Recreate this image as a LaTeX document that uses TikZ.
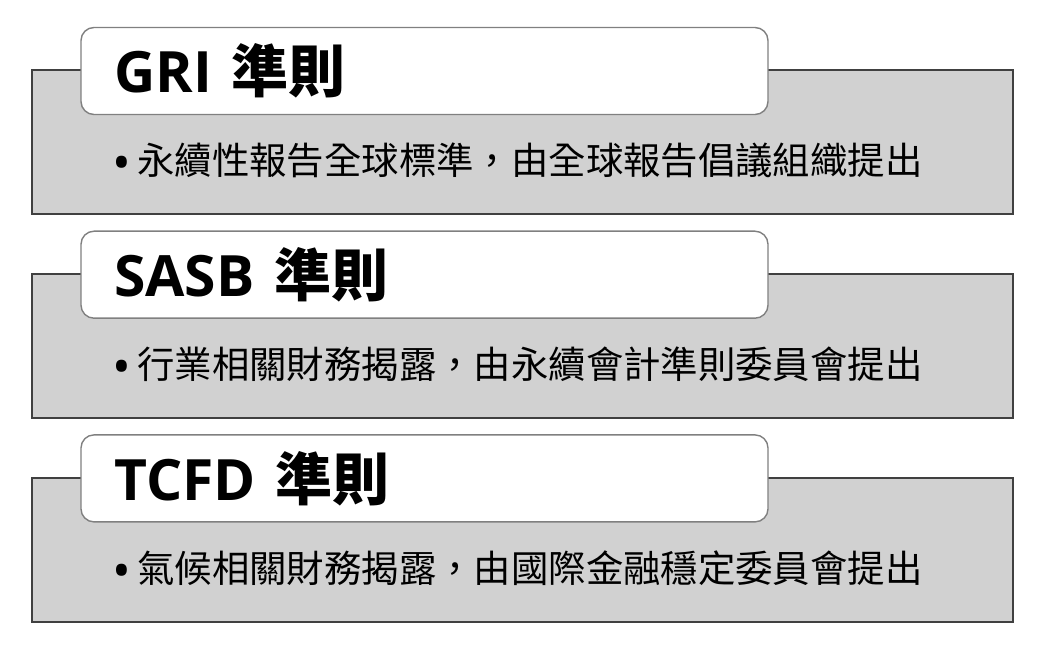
\documentclass[tikz,border=0pt]{standalone}
\usepackage{fontspec}
\usepackage{tikz}
\newfontfamily\cjk{Noto Sans CJK TC}
\newfontfamily\latin{Open Sans}
\tikzset{
  panel/.style={draw=black!75, line width=2pt, fill=black!18},
  tab/.style={draw=black!50, line width=1.4pt, fill=white, rounded corners=13pt},
  titletext/.style={anchor=base west, inner sep=0pt, font=\fontsize{57}{62}\selectfont\bfseries},
  bodytext/.style={anchor=base west, inner sep=0pt, font=\cjk\fontsize{37.4}{44}\selectfont},
}

\begin{document}
\begin{tikzpicture}[x=1pt,y=-1pt]
        \useasboundingbox (0,0) rectangle (1050,652);
        \foreach \i/\name/\body in {0/GRI/{永續性報告全球標準，由全球報告倡議組織提出},
                                    1/SASB/{行業相關財務揭露，由永續會計準則委員會提出},
                                    2/TCFD/{氣候相關財務揭露，由國際金融穩定委員會提出}} % one panel per standard
        {
        \pgfmathsetmacro\dy{203.7*\i}
        \draw[panel] (32,70.5+\dy) rectangle (1013,214.5+\dy);
        \draw[tab] (81,27.5+\dy) rectangle (768,114.5+\dy);
        \node[titletext] (title\i) at (114,93+\dy) {{\latin\bfseries \name}\hspace{20pt}{\cjk\bfseries 準則}};
        \node[bodytext] (dot\i) at (112,181+\dy) {\latin\fontsize{50}{50}\selectfont\textbullet};
        \node[bodytext] (body\i) at (137,175+\dy) {\body};
        }
    \end{tikzpicture}
\end{document}
